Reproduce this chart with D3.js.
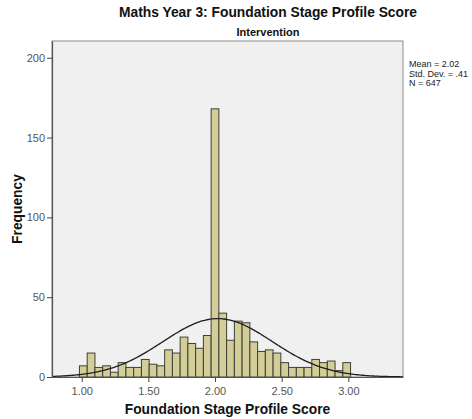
<!DOCTYPE html>
<html>
<head>
<meta charset="utf-8">
<script src="https://cdn.jsdelivr.net/npm/d3@7"></script>
<style>
  body { margin: 0; background: #fff; }
  svg { display: block; font-family: Arial, 'Liberation Sans', sans-serif; }
</style>
</head>
<body>
<svg id="chart"></svg>
<script>
// histogram bins (SPSS style, bin centred on 2.00)
const binStart = 0.983;
const binWidth = 0.0581;
const counts = [7, 15, 6, 7, 3, 9, 6, 6, 11, 8, 7, 17, 15, 25, 21, 18, 26, 168,
  40, 23, 35, 34, 22, 16, 17, 15, 9, 6, 6, 6, 11, 9, 10, 4, 9];

const xTicks = [1.0, 1.5, 2.0, 2.5, 3.0];
const yTicks = [0, 50, 100, 150, 200];

const stats = { mean: 2.02, sd: 0.41, n: 647 };
const statLabels = ['Mean = 2.02', 'Std. Dev. = .41', 'N = 647'];

const width = 472;
const height = 419;
const margin = { top: 41, right: 69, bottom: 42, left: 52 };

const svg = d3.select('#chart')
  .attr('width', width)
  .attr('height', height);

const x = d3.scaleLinear()
  .domain([0.777, 3.41])
  .range([margin.left, width - margin.right]);

const y = d3.scaleLinear()
  .domain([0, 210.5])
  .range([height - margin.bottom, margin.top]);

const bins = counts.map((c, i) => ({
  x0: binStart + i * binWidth,
  x1: binStart + (i + 1) * binWidth,
  count: c
}));

// plot background
svg.append('rect')
  .attr('x', x.range()[0])
  .attr('y', y.range()[1])
  .attr('width', x.range()[1] - x.range()[0])
  .attr('height', y.range()[0] - y.range()[1])
  .attr('fill', '#f0f0f0')
  .attr('stroke', '#8c8c8c')
  .attr('stroke-width', 1);

// bars
svg.append('g')
  .selectAll('rect')
  .data(bins)
  .enter()
  .append('rect')
  .attr('x', d => x(d.x0))
  .attr('y', d => y(d.count))
  .attr('width', d => x(d.x1) - x(d.x0))
  .attr('height', d => y(0) - y(d.count))
  .attr('fill', '#d3ce98')
  .attr('stroke', '#3f3f3a')
  .attr('stroke-width', 1);

// normal curve scaled to counts
const scale = stats.n * binWidth / (stats.sd * Math.sqrt(2 * Math.PI));
const curveXs = d3.range(0, 201).map(i => x.domain()[0] + i * (x.domain()[1] - x.domain()[0]) / 200);
const line = d3.line()
  .x(v => x(v))
  .y(v => y(scale * Math.exp(-0.5 * Math.pow((v - stats.mean) / stats.sd, 2))))
  .curve(d3.curveBasis);

svg.append('path')
  .datum(curveXs)
  .attr('d', line)
  .attr('fill', 'none')
  .attr('stroke', '#1e1e1e')
  .attr('stroke-width', 1.3);

// axes
const xAxis = svg.append('g')
  .attr('transform', `translate(0, ${y(0)})`)
  .call(d3.axisBottom(x).tickValues(xTicks).tickFormat(d3.format('.2f')).tickSize(5).tickSizeOuter(0));

const yAxis = svg.append('g')
  .attr('transform', `translate(${x.range()[0]}, 0)`)
  .call(d3.axisLeft(y).tickValues(yTicks).tickSize(5).tickSizeOuter(0));

[xAxis, yAxis].forEach(a => {
  a.select('.domain').attr('stroke', '#555').attr('stroke-width', 1.2);
  a.selectAll('.tick line').attr('stroke', '#444');
  a.selectAll('.tick text')
    .attr('fill', '#555')
    .style('font-size', '11px')
    .style('font-family', "Arial, 'Liberation Sans', sans-serif");
});
xAxis.selectAll('.tick text').attr('dy', '0.9em');
yAxis.selectAll('.tick text').attr('x', -7);

// titles
svg.append('text')
  .attr('x', 268)
  .attr('y', 17)
  .attr('text-anchor', 'middle')
  .style('font-weight', 'bold')
  .style('font-size', '13.8px')
  .attr('fill', '#111')
  .text('Maths Year 3: Foundation Stage Profile Score');

svg.append('text')
  .attr('x', 268)
  .attr('y', 36)
  .attr('text-anchor', 'middle')
  .style('font-weight', 'bold')
  .style('font-size', '11px')
  .attr('fill', '#111')
  .text('Intervention');

svg.append('text')
  .attr('x', (x.range()[0] + x.range()[1]) / 2)
  .attr('y', 414)
  .attr('text-anchor', 'middle')
  .style('font-weight', 'bold')
  .style('font-size', '13.8px')
  .attr('fill', '#111')
  .text('Foundation Stage Profile Score');

svg.append('text')
  .attr('transform', `translate(22, ${(y.range()[0] + y.range()[1]) / 2}) rotate(-90)`)
  .attr('text-anchor', 'middle')
  .style('font-weight', 'bold')
  .style('font-size', '13.8px')
  .attr('fill', '#111')
  .text('Frequency');

// stats box
svg.append('g')
  .selectAll('text')
  .data(statLabels)
  .enter()
  .append('text')
  .attr('x', 409)
  .attr('y', (d, i) => 67 + i * 9.5)
  .style('font-size', '9px')
  .attr('fill', '#222')
  .text(d => d);
</script>
</body>
</html>
